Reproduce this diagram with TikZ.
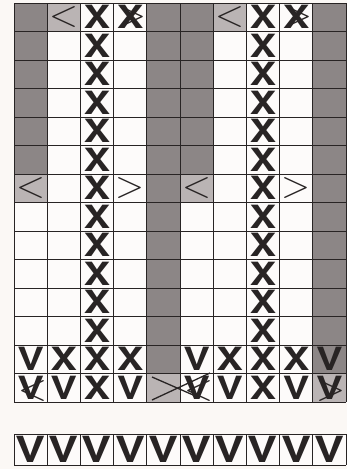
\documentclass[tikz,border=0pt]{standalone}
\usepackage{graphicx}
\usepackage{fontspec}
\newfontfamily\heros{TeX Gyre Heros}
\newcommand\wide[1]{\scalebox{1.25}[1]{#1}}
\begin{document}
\definecolor{bgc}{RGB}{251,248,245}
\definecolor{cellw}{RGB}{253,251,250}
\definecolor{darkc}{RGB}{140,134,134}
\definecolor{lightc}{RGB}{186,180,180}
\definecolor{inkc}{RGB}{40,36,36}
\begin{tikzpicture}[x=1pt,y=-1pt,
  gridline/.style={draw=inkc,line width=0.9pt},
  letter/.style={inner sep=0pt,text=inkc,font=\heros\bfseries\fontsize{32}{32}\selectfont},
  bigletter/.style={inner sep=0pt,text=inkc,font=\heros\bfseries\fontsize{36}{36}\selectfont},
  chev/.style={inner sep=0pt,text=inkc,font=\fontsize{38}{38}\selectfont},
  crossline/.style={draw=inkc,line width=1.3pt}]
\useasboundingbox (0,0) rectangle (347,469);
\fill[bgc] (0,0) rectangle (347,469);
\def\W{33.2}\def\H{28.5}
% white grid base
\fill[cellw] (14,3) rectangle (346,402);
% shaded columns: col/rowstart/rowend
\foreach \c/\a/\b in {1/1/6,5/1/13,6/1/6,10/1/13}
  \fill[darkc] ({14+\W*(\c-1)},{3+\H*(\a-1)}) rectangle ({14+\W*\c},{3+\H*\b});
\foreach \c/\a/\b in {2/1/1,7/1/1,1/7/7,6/7/7,5/14/14,10/14/14}
  \fill[lightc] ({14+\W*(\c-1)},{3+\H*(\a-1)}) rectangle ({14+\W*\c},{3+\H*\b});
% grid lines
\foreach \i in {0,...,10}
  \draw[gridline] ({14+\W*\i},3) -- ({14+\W*\i},402);
\foreach \j in {0,...,14}
  \draw[gridline] (14,{3+\H*\j}) -- (346,{3+\H*\j});
% X columns
\foreach \j in {1,...,14} {
  \node[letter] (xa\j) at ({14+\W*2.5},{3+\H*(\j-0.5)}) {\wide{X}};
  \node[letter] (xb\j) at ({14+\W*7.5},{3+\H*(\j-0.5)}) {\wide{X}};
}
% row 1
\node[chev] (r1c2) at ({14+\W*1.5},{3+\H*0.5}) {<};
\node[letter] (r1c4) at ({14+\W*3.5},{3+\H*0.5}) {\wide{X}};
\node[chev] (r1c4b) at ({14+\W*3.5+2},{3+\H*0.5}) {>};
\node[chev] (r1c7) at ({14+\W*6.5},{3+\H*0.5}) {<};
\node[letter] (r1c9) at ({14+\W*8.5},{3+\H*0.5}) {\wide{X}};
\node[chev] (r1c9b) at ({14+\W*8.5+2},{3+\H*0.5}) {>};
% row 7
\node[chev] (r7c1) at ({14+\W*0.5},{3+\H*6.5}) {<};
\node[chev] (r7c4) at ({14+\W*3.5},{3+\H*6.5}) {>};
\node[chev] (r7c6) at ({14+\W*5.5},{3+\H*6.5}) {<};
\node[chev] (r7c9) at ({14+\W*8.5},{3+\H*6.5}) {>};
% row 13
\node[letter] (r13c1) at ({14+\W*0.5},{3+\H*12.5}) {\wide{V}};
\node[letter] (r13c2) at ({14+\W*1.5},{3+\H*12.5}) {\wide{X}};
\node[letter] (r13c4) at ({14+\W*3.5},{3+\H*12.5}) {\wide{X}};
\node[letter] (r13c6) at ({14+\W*5.5},{3+\H*12.5}) {\wide{V}};
\node[letter] (r13c7) at ({14+\W*6.5},{3+\H*12.5}) {\wide{X}};
\node[letter] (r13c9) at ({14+\W*8.5},{3+\H*12.5}) {\wide{X}};
\node[letter] (r13c10) at ({14+\W*9.5},{3+\H*12.5}) {\wide{V}};
% row 14
\node[letter] (r14c1) at ({14+\W*0.5},{3+\H*13.5}) {\wide{V}};
\node[chev] (r14c1b) at ({14+\W*0.5+2},{3+\H*13.5+3}) {<};
\node[letter] (r14c2) at ({14+\W*1.5},{3+\H*13.5}) {\wide{V}};
\node[letter] (r14c4) at ({14+\W*3.5},{3+\H*13.5}) {\wide{V}};
\coordinate (l1a) at (152,377);
\coordinate (l1b) at (200,398);
\coordinate (l2a) at (152,400);
\coordinate (l2b) at (210,373);
\draw[crossline] (l1a) -- (l1b);
\draw[crossline] (l2a) -- (l2b);
\node[letter] (r14c6) at ({14+\W*5.5},{3+\H*13.5}) {\wide{V}};
\node[chev] (r14c6b) at ({14+\W*5.5+2},{3+\H*13.5+3}) {<};
\node[letter] (r14c7) at ({14+\W*6.5},{3+\H*13.5}) {\wide{V}};
\node[letter] (r14c9) at ({14+\W*8.5},{3+\H*13.5}) {\wide{V}};
\node[letter] (r14c10) at ({14+\W*9.5},{3+\H*13.5}) {\wide{V}};
\node[chev] (r14c10b) at ({14+\W*9.5+2},{3+\H*13.5+3}) {>};
% bottom row
\fill[cellw] (14,434) rectangle (346,465);
\foreach \i in {0,...,10}
  \draw[gridline] ({14+\W*\i},434) -- ({14+\W*\i},465);
\draw[gridline] (14,434) -- (346,434);
\draw[gridline] (14,465) -- (346,465);
\foreach \i in {1,...,10}
  \node[bigletter] (bv\i) at ({14+\W*(\i-0.5)},449.5) {\wide{V}};
\end{tikzpicture}
\end{document}
